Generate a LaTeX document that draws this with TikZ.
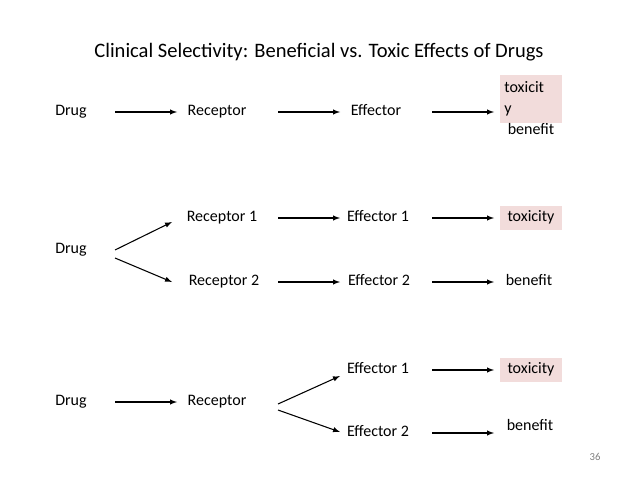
\documentclass[tikz,border=0pt]{standalone}
\usepackage{fontspec}
\setmainfont{Carlito}
\usetikzlibrary{positioning}
\definecolor{toxpink}{HTML}{F2DCDB}
\tikzset{%
  lbl/.style={font=\fontsize{12}{14}\selectfont,inner sep=1pt,text height=1.6ex,text depth=.45ex},
  tox/.style={lbl,fill=toxpink,minimum width=46pt,minimum height=18pt},
  arr/.style={-latex,thick}
}
\begin{document}
\begin{tikzpicture}[x=0.75pt,y=-0.75pt]
    \useasboundingbox (0,0) rectangle (638,478);
    \node[font=\fontsize{15.4}{18}\selectfont] (title) at (319,52) {Clinical Selectivity: Beneficial vs. Toxic Effects of Drugs};
    % row 1
    \node[lbl] (drugA) at (71,112) {Drug};
    \node[lbl] (recA) at (217,112) {Receptor};
    \node[lbl] (effA) at (376,112) {Effector};
    \node[tox,minimum height=36pt,text width=40pt,text height=,text depth=,align=left,font=\fontsize{12}{16}\selectfont] (toxA) at (531,99) {toxicit\\y};
    \node[lbl] (benA) at (531,131) {benefit};
    \draw[arr] (115,112) -- (177,112);
    \draw[arr] (278,112) -- (340,112);
    \draw[arr] (432,112) -- (494,112);
    % row 2
    \node[lbl] (drugB) at (71,250) {Drug};
    \node[lbl] (recB1) at (222,218) {Receptor 1};
    \node[lbl] (recB2) at (224,282) {Receptor 2};
    \node[lbl] (effB1) at (378,218) {Effector 1};
    \node[lbl] (effB2) at (379,282) {Effector 2};
    \node[tox] (toxB) at (531,218) {toxicity};
    \node[lbl] (benB) at (529,282) {benefit};
    \draw[arr] (115,250) -- (172,222);
    \draw[arr] (115,258) -- (172,282);
    \draw[arr] (278,218) -- (340,218);
    \draw[arr] (278,282) -- (340,282);
    \draw[arr] (432,218) -- (494,218);
    \draw[arr] (432,282) -- (494,282);
    % row 3
    \node[lbl] (drugC) at (71,402) {Drug};
    \node[lbl] (recC) at (217,402) {Receptor};
    \node[lbl] (effC1) at (378,370) {Effector 1};
    \node[lbl] (effC2) at (378,433) {Effector 2};
    \node[tox] (toxC) at (531,370) {toxicity};
    \node[lbl] (benC) at (530,427) {benefit};
    \draw[arr] (115,402) -- (177,402);
    \draw[arr] (278,404) -- (340,376);
    \draw[arr] (278,410) -- (340,432);
    \draw[arr] (432,370) -- (494,370);
    \draw[arr] (432,433) -- (494,433);
    \node[font=\fontsize{8}{9}\selectfont,text=gray] (page) at (595,457) {36};
\end{tikzpicture}
\end{document}
